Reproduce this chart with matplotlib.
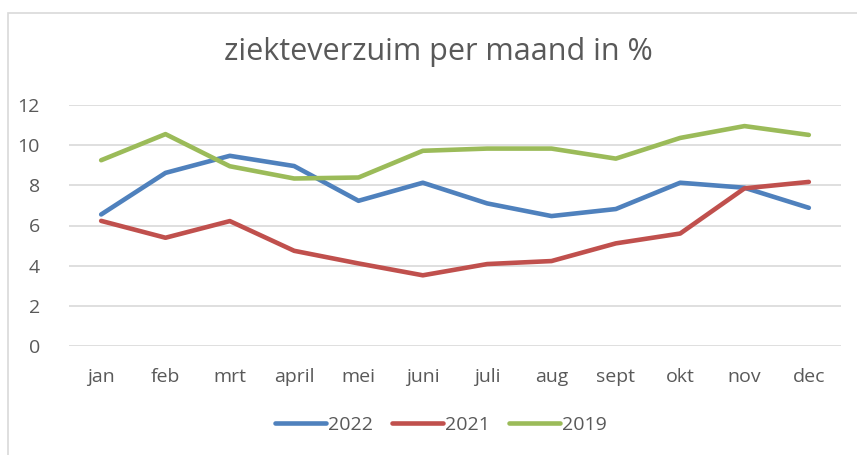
import matplotlib
matplotlib.use("Agg")
from matplotlib import pyplot as plt
from matplotlib.patches import Rectangle

months = ["jan", "feb", "mrt", "april", "mei", "juni", "juli", "aug", "sept", "okt", "nov", "dec"]
v2022 = [6.55, 8.62, 9.47, 8.96, 7.23, 8.13, 7.10, 6.47, 6.82, 8.13, 7.88, 6.88]
v2021 = [6.23, 5.39, 6.22, 4.74, 4.11, 3.52, 4.08, 4.23, 5.11, 5.60, 7.85, 8.17]
v2019 = [9.25, 10.55, 8.95, 8.34, 8.39, 9.72, 9.83, 9.83, 9.33, 10.36, 10.95, 10.51]
yticks = [0, 2, 4, 6, 8, 10, 12]

textcol = "#595959"
plt.rcParams["font.family"] = ["Open Sans", "DejaVu Sans"]

fig = plt.figure(figsize=(8.57, 4.55), dpi=100)
ax = fig.add_axes([69/857, 1-346/455, (841-69)/857, (346-105)/455])

# chart area border
fig.patches.append(Rectangle((8/857, -0.1), 1.2, 1-12.5/455+0.1, transform=fig.transFigure,
                             fill=False, edgecolor="#D9D9D9", linewidth=1.2))

x = range(len(months))
lw = 3.3
ax.plot(x, v2022, color="#4F81BD", lw=lw, solid_capstyle="round", solid_joinstyle="round", label="2022")
ax.plot(x, v2021, color="#C0504D", lw=lw, solid_capstyle="round", solid_joinstyle="round", label="2021")
ax.plot(x, v2019, color="#9BBB59", lw=lw, solid_capstyle="round", solid_joinstyle="round", label="2019")

ax.set_xlim(-0.5, len(months) - 0.5)
ax.set_ylim(0, 12)
ax.set_xticks(list(x))
ax.set_xticklabels(months)
ax.set_yticks(yticks)
ax.tick_params(length=0, labelsize=14, labelcolor=textcol)
ax.tick_params(axis="x", pad=16)
ax.tick_params(axis="y", pad=21)
for s in ax.spines.values():
    s.set_visible(False)
ax.grid(axis="y", color="#D9D9D9", lw=1.2)
ax.set_axisbelow(True)

fig.text(438/857, 1-52/455, "ziekteverzuim per maand in %", ha="center", va="center",
         fontsize=22, color=textcol)

leg = fig.legend(loc="center", bbox_to_anchor=(441/857, 1-425/455), ncol=3, frameon=False,
                 fontsize=14, handlelength=2.6, handletextpad=0.1, columnspacing=1.0)
for t in leg.get_texts():
    t.set_color(textcol)

fig.savefig("out.png", dpi=100)
